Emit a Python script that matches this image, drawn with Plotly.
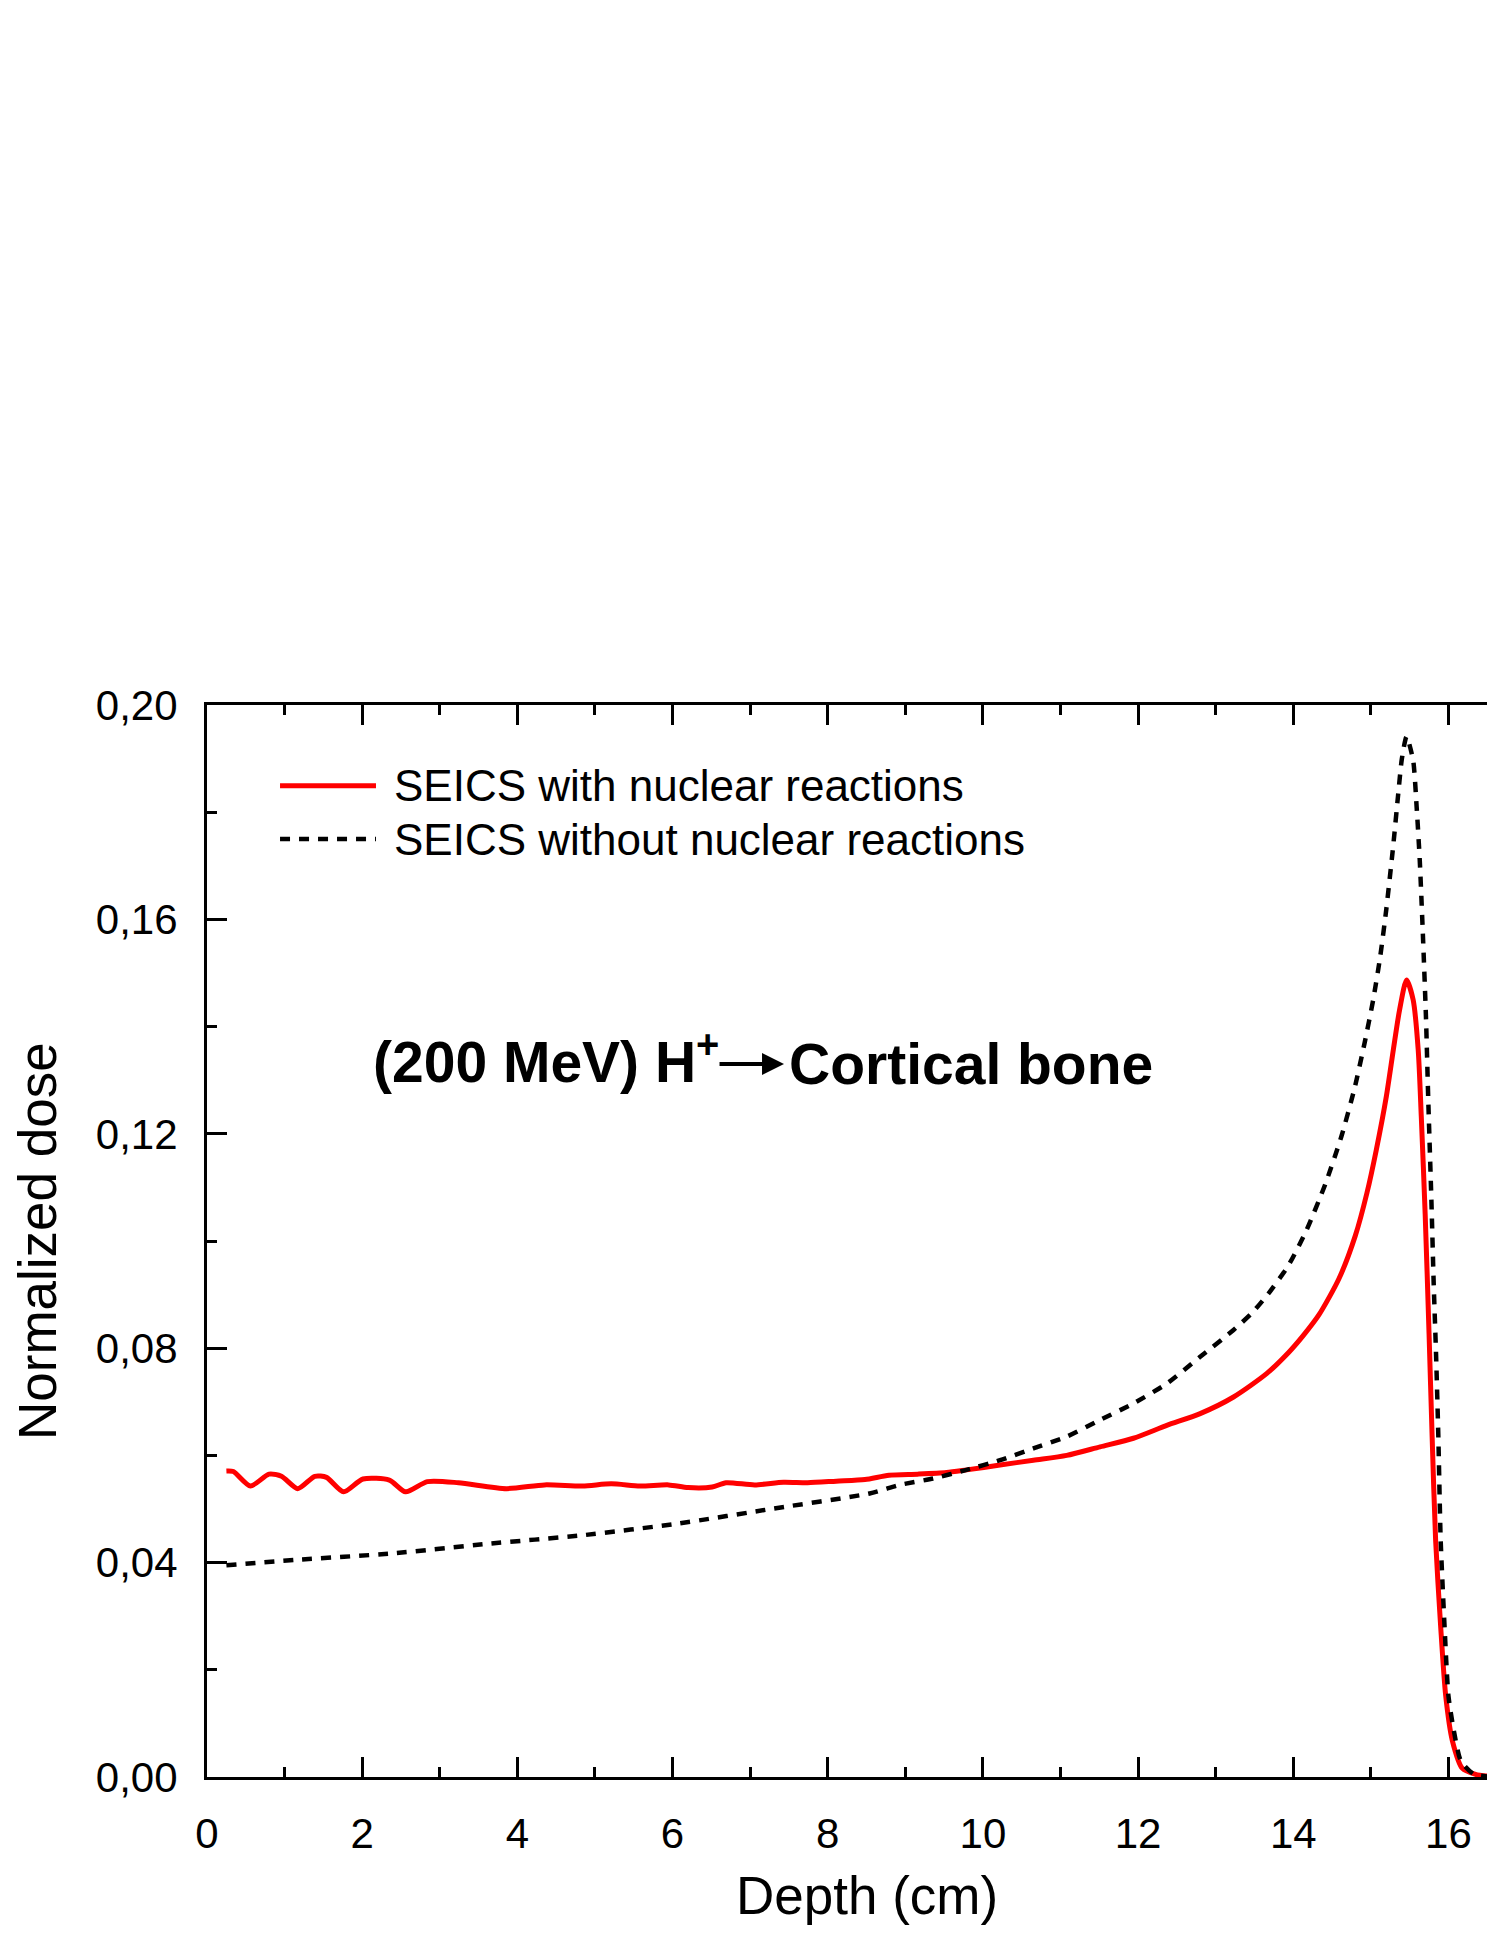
import plotly.graph_objects as go

# dose curves
depth_nuc = [0.25, 0.34, 0.56, 0.80, 0.96, 1.17, 1.39, 1.54, 1.76, 2.01, 2.35, 2.56, 2.84,
             3.24, 3.86, 4.35, 4.84, 5.21, 5.58, 5.95, 6.20, 6.51, 6.69, 7.06, 7.43, 7.74,
             8.11, 8.48, 8.79, 9.16, 9.53, 9.79, 10.22, 10.65, 11.08, 11.51, 11.94, 12.37,
             12.80, 13.23, 13.66, 13.94, 14.12, 14.33, 14.59, 14.80, 14.95, 15.07, 15.20,
             15.29, 15.37, 15.46, 15.545, 15.61, 15.65, 15.70, 15.75, 15.79, 15.835, 15.90,
             15.965, 16.05, 16.18, 16.35, 16.6]
dose_nuc = [0.0571, 0.0570, 0.0543, 0.0565, 0.0561, 0.0538, 0.0561, 0.0559, 0.0532, 0.0556,
            0.0554, 0.0532, 0.0551, 0.0549, 0.0538, 0.0545, 0.0543, 0.0547, 0.0543, 0.0545,
            0.0540, 0.0541, 0.0549, 0.0545, 0.0550, 0.0549, 0.0552, 0.0555, 0.0563, 0.0565,
            0.0568, 0.0573, 0.0582, 0.0591, 0.0600, 0.0616, 0.0632, 0.0656, 0.0678, 0.0709,
            0.0753, 0.0792, 0.0822, 0.0862, 0.0930, 0.1010, 0.1090, 0.1170, 0.1270, 0.1357,
            0.1431, 0.1487, 0.1450, 0.1357, 0.1232, 0.1050, 0.0827, 0.0634, 0.0441, 0.0280,
            0.0151, 0.0068, 0.0016, 0.0005, 0.0]

depth_nonuc = [0.25, 1.14, 2.38, 3.61, 4.84, 6.08, 7.31, 8.54, 8.93, 9.36, 9.79, 10.22,
               10.65, 11.08, 11.51, 11.94, 12.37, 12.80, 13.23, 13.47, 13.68, 13.94, 14.17,
               14.41, 14.62, 14.79, 14.92, 15.03, 15.12, 15.20, 15.29, 15.35, 15.40, 15.46,
               15.545, 15.59, 15.63, 15.67, 15.71, 15.74, 15.78, 15.81, 15.84, 15.87, 15.90,
               15.95, 16.00, 16.07, 16.16, 16.33, 16.6]
dose_nonuc = [0.0395, 0.0405, 0.0417, 0.0435, 0.0451, 0.0473, 0.0501, 0.0529, 0.0545, 0.0557,
              0.0573, 0.0591, 0.0613, 0.0635, 0.0666, 0.0697, 0.0734, 0.0784, 0.0834, 0.0866,
              0.0902, 0.0955, 0.1020, 0.1105, 0.1195, 0.1285, 0.1370, 0.1450, 0.1530, 0.1620,
              0.1740, 0.1830, 0.1900, 0.1941, 0.1897, 0.1810, 0.1711, 0.1574, 0.1419, 0.1263,
              0.1077, 0.0920, 0.0790, 0.0634, 0.0441, 0.0280, 0.0151, 0.0086, 0.0030, 0.0005,
              0.0]

names = ["SEICS with nuclear reactions", "SEICS without nuclear reactions"]
FONT = "Liberation Sans, Arial, sans-serif"
DASH = "10px,9px"

fig = go.Figure()
fig.add_trace(go.Scatter(x=depth_nuc, y=dose_nuc, mode="lines", name=names[0],
                         line=dict(color="#ff0000", width=5, shape="spline", smoothing=0.7)))
fig.add_trace(go.Scatter(x=depth_nonuc, y=dose_nonuc, mode="lines", name=names[1],
                         line=dict(color="black", width=4.5, dash=DASH,
                                   shape="spline", smoothing=0.6)))

# hand made legend (long line samples like the original)
leg_y = [0.9247, 0.875]
styles = [dict(color="#ff0000", width=5), dict(color="black", width=4.5, dash=DASH)]
for yy, st, nm in zip(leg_y, styles, names):
    fig.add_shape(type="line", xref="paper", yref="paper", x0=0.0567, x1=0.1312,
                  y0=yy, y1=yy, line=st)
    fig.add_annotation(xref="paper", yref="paper", x=0.1436, y=yy, text=nm,
                       showarrow=False, xanchor="left", yanchor="middle",
                       font=dict(family=FONT, size=44, color="black"))

# "(200 MeV) H+ -> Cortical bone" label, arrow drawn as an annotation arrow
lab_font = dict(family=FONT, size=57, color="black")
fig.add_annotation(xref="paper", yref="paper", x=0.1270, y=0.6706,
                   text="<b>(200 MeV) H<sup>+</sup></b>", showarrow=False,
                   xanchor="left", yanchor="middle", font=lab_font)
fig.add_annotation(xref="paper", yref="paper", x=0.448, y=0.6651, text="",
                   showarrow=True, axref="pixel", ayref="pixel", ax=-66, ay=0,
                   arrowhead=2, arrowsize=1.1, arrowwidth=4, arrowcolor="black",
                   standoff=0, startstandoff=0)
fig.add_annotation(xref="paper", yref="paper", x=0.4500, y=0.665,
                   text="<b>Cortical bone</b>", showarrow=False,
                   xanchor="left", yanchor="middle", font=lab_font)

# axis titles
fig.add_annotation(xref="paper", yref="paper", x=0.5124, y=-0.1105, text="Depth (cm)",
                   showarrow=False, xanchor="center", yanchor="middle",
                   font=dict(family=FONT, size=53, color="black"))
fig.add_annotation(xref="paper", yref="paper", x=-0.132, y=0.5, text="Normalized dose",
                   showarrow=False, textangle=-90, xanchor="center", yanchor="middle",
                   font=dict(family=FONT, size=53, color="black"))

fig.update_xaxes(range=[0, 16.6], tickvals=list(range(0, 17, 2)), showline=True,
                 linecolor="black", linewidth=3, mirror="ticks", ticks="inside",
                 ticklen=20, tickwidth=3, tickcolor="black", showgrid=False, zeroline=False,
                 minor=dict(dtick=1, ticks="inside", ticklen=10, tickwidth=3, tickcolor="black",
                            showgrid=False),
                 tickfont=dict(family=FONT, size=42, color="black"), ticklabelstandoff=18)
fig.update_yaxes(range=[0, 0.2], dtick=0.04, tickformat=".2f", showline=True,
                 linecolor="black", linewidth=3, mirror=False, ticks="inside",
                 ticklen=20, tickwidth=3, tickcolor="black", showgrid=False, zeroline=False,
                 minor=dict(dtick=0.02, ticks="inside", ticklen=10, tickwidth=3,
                            tickcolor="black", showgrid=False),
                 tickfont=dict(family=FONT, size=42, color="black"), ticklabelstandoff=18)

# page body has an 8px margin, so the figure is a bit smaller than the window
fig.update_layout(width=1487, height=1918, separators=", ",
                  margin=dict(l=199, r=0, t=697, b=149),
                  plot_bgcolor="white", paper_bgcolor="white", showlegend=False)

fig.write_html("out.html")
